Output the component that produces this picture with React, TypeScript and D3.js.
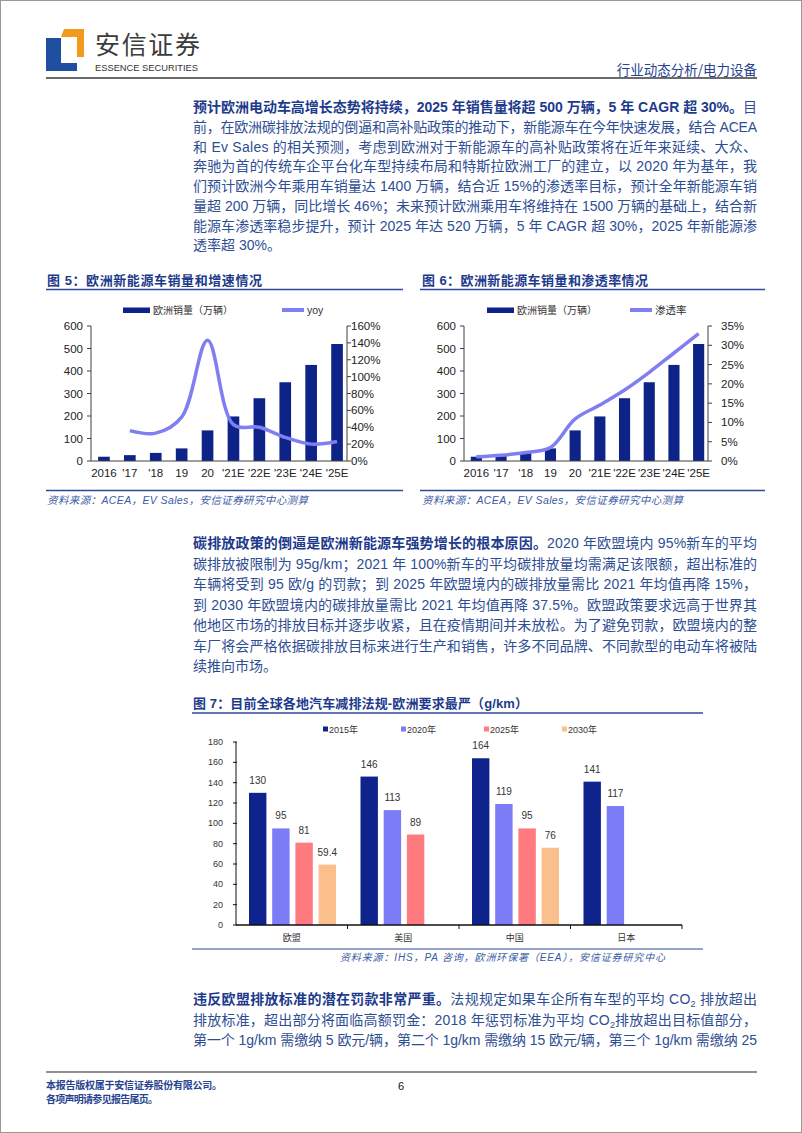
import React from 'react';
import * as d3 from 'd3';

// ---------- DATA ----------
const years = ['2016', "'17", "'18", '19', '20', "'21E", "'22E", "'23E", "'24E", "'25E"];
const euSales = [19, 26, 36, 56, 136, 198, 279, 350, 427, 520];
const euYoy: (number | null)[] = [null, 36, 33, 52, 143, 43, 40, 28, 20, 23];
const euPenetration = [1.1, 1.5, 2.2, 3.5, 10.9, 14.5, 18.4, 23, 28, 33];
const salesTicks = [0, 100, 200, 300, 400, 500, 600];
const yoyTicks = [0, 20, 40, 60, 80, 100, 120, 140, 160];
const penTicks = [0, 5, 10, 15, 20, 25, 30, 35];

const regions = ['欧盟', '美国', '中国', '日本'];
const stdYears = ['2015年', '2020年', '2025年', '2030年'];
const std2015 = [130, 146, 164, 141];
const std2020 = [95, 113, 119, 117];
const std2025: (number | null)[] = [81, 89, 95, null];
const std2030: (number | null)[] = [59.4, null, 76, null];
const stdTicks = [0, 20, 40, 60, 80, 100, 120, 140, 160, 180];

const para1 = [
  '前，在欧洲碳排放法规的倒逼和高补贴政策的推动下，新能源车在今年快速发展，结合 ACEA',
  '和 Ev Sales 的相关预测，考虑到欧洲对于新能源车的高补贴政策将在近年来延续、大众、',
  '奔驰为首的传统车企平台化车型持续布局和特斯拉欧洲工厂的建立，以 2020 年为基年，我',
  '们预计欧洲今年乘用车销量达 1400 万辆，结合近 15%的渗透率目标，预计全年新能源车销',
  '量超 200 万辆，同比增长 46%；未来预计欧洲乘用车将维持在 1500 万辆的基础上，结合新',
  '能源车渗透率稳步提升，预计 2025 年达 520 万辆，5 年 CAGR 超 30%，2025 年新能源渗',
];
const para2 = [
  '碳排放被限制为 95g/km；2021 年 100%新车的平均碳排放量均需满足该限额，超出标准的',
  '车辆将受到 95 欧/g 的罚款；到 2025 年欧盟境内的碳排放量需比 2021 年均值再降 15%，',
  '到 2030 年欧盟境内的碳排放量需比 2021 年均值再降 37.5%。欧盟政策要求远高于世界其',
  '他地区市场的排放目标并逐步收紧，且在疫情期间并未放松。为了避免罚款，欧盟境内的整',
  '车厂将会严格依据碳排放目标来进行生产和销售，许多不同品牌、不同款型的电动车将被陆',
];

// ---------- STYLE ----------
const FONT = "'Liberation Sans', Arial, 'Noto Sans CJK SC', sans-serif";
const NAVY = '#0E2388';
const LINE = '#7F7FF2';
const BODY = '#2E4E93';
const BOLD = '#1D3A8C';
const AXIS = '#404040';

type DualProps = {
  left: number; right: number; bandEnd: number; rightLabelX: number;
  line: (number | null)[]; lineMax: number; lineTicks: number[];
  lineLegend: string; lineLegendX: number; barLegendX: number;
  title: string; titleX: number; titleLen: number; ruleX1: number; ruleX2: number;
};

function DualChart(p: DualProps) {
  const top = 326, bottom = 461;
  const x = d3.scaleBand<string>().domain(years).range([p.left, p.bandEnd]).paddingInner(0.55).paddingOuter(0.275);
  const yL = d3.scaleLinear().domain([0, 600]).range([bottom, top]);
  const yR = d3.scaleLinear().domain([0, p.lineMax]).range([bottom, top]);
  const pts = years.map((c, i) => ({ c, v: p.line[i] })).filter(d => d.v !== null) as { c: string; v: number }[];
  const path = d3.line<{ c: string; v: number }>()
    .x(d => (x(d.c) as number) + x.bandwidth() / 2)
    .y(d => yR(d.v))
    .curve(d3.curveCatmullRom.alpha(0.5))(pts) || '';
  return (
    <g fontFamily={FONT}>
      <text x={p.titleX} y={285} fontSize={13} fontWeight="bold" fill={BOLD} textLength={p.titleLen} lengthAdjust="spacing">{p.title}</text>
      <line x1={p.ruleX1} x2={p.ruleX2} y1={289.5} y2={289.5} stroke="#2D4A9A" strokeWidth={1.5} />
      {/* legend */}
      <rect x={p.barLegendX} y={307.5} width={27} height={5.5} fill={NAVY} />
      <text x={p.barLegendX + 30} y={314} fontSize={10} fill="#333">欧洲销量（万辆）</text>
      <line x1={p.lineLegendX} x2={p.lineLegendX + 22} y1={310} y2={310} stroke={LINE} strokeWidth={4} />
      <text x={p.lineLegendX + 25} y={314} fontSize={10.5} fill="#333">{p.lineLegend}</text>
      {/* bars */}
      {years.map((c, i) => (
        <rect key={c} x={x(c)} y={yL(euSales[i])} width={x.bandwidth()} height={bottom - yL(euSales[i])} fill={NAVY} />
      ))}
      <path d={path} fill="none" stroke={LINE} strokeWidth={3.5} />
      {/* axes */}
      <line x1={p.left} x2={p.left} y1={top} y2={bottom} stroke={AXIS} />
      <line x1={p.right} x2={p.right} y1={top} y2={bottom} stroke={AXIS} />
      <line x1={p.left} x2={p.right} y1={bottom} y2={bottom} stroke={AXIS} />
      {salesTicks.map(t => (
        <g key={t}>
          <line x1={p.left - 4} x2={p.left} y1={yL(t)} y2={yL(t)} stroke={AXIS} />
          <text x={p.left - 8} y={yL(t)} dy="0.35em" fontSize={11.5} textAnchor="end" fill="#222">{t}</text>
        </g>
      ))}
      {p.lineTicks.map(t => (
        <g key={t}>
          <line x1={p.right} x2={p.right + 4} y1={yR(t)} y2={yR(t)} stroke={AXIS} />
          <text x={p.rightLabelX} y={yR(t)} dy="0.35em" fontSize={11.5} fill="#222">{t}%</text>
        </g>
      ))}
      {years.map(c => (
        <text key={c} x={(x(c) as number) + x.bandwidth() / 2} y={477} fontSize={11.5} textAnchor="middle" fill="#222">{c}</text>
      ))}
      <line x1={p.ruleX1} x2={p.ruleX2} y1={490.5} y2={490.5} stroke="#2D4A9A" strokeWidth={1.5} />
      <text x={p.titleX} y={504} fontSize={10.5} fontStyle="italic" fill="#3A5BA5" textLength={261} lengthAdjust="spacing">资料来源：ACEA，EV Sales，安信证券研究中心测算</text>
    </g>
  );
}

function StdChart() {
  const left = 236, right = 682, top = 742, bottom = 925;
  const x0 = d3.scaleBand<string>().domain(regions).range([left, right]);
  const x1 = d3.scaleBand<string>().domain(stdYears).range([13, 100]).paddingInner(0.25);
  const y = d3.scaleLinear().domain([0, 180]).range([bottom, top]);
  const colors = ['#0F238C', '#7C7CF6', '#FF7B7F', '#FBBF8C'];
  const series = [std2015, std2020, std2025, std2030];
  const legendX = [323, 401, 484, 562];
  return (
    <g fontFamily={FONT}>
      <text x={193} y={708} fontSize={13} fontWeight="bold" fill={BOLD} textLength={335} lengthAdjust="spacing">图 7：目前全球各地汽车减排法规-欧洲要求最严（g/km）</text>
      <line x1={192} x2={703} y1={713} y2={713} stroke="#2D4A9A" strokeWidth={1.5} />
      {stdYears.map((s, i) => (
        <g key={s}>
          <rect x={legendX[i]} y={726.5} width={5} height={5} fill={colors[i]} />
          <text x={legendX[i] + 6} y={732.5} fontSize={9} fill="#333">{s}</text>
        </g>
      ))}
      {regions.map((r, ri) => (
        <g key={r}>
          {series.map((s, si) => {
            const v = s[ri];
            if (v === null) return null;
            const bx = (x0(r) as number) + (x1(stdYears[si]) as number);
            return (
              <g key={si}>
                <rect x={bx} y={y(v)} width={x1.bandwidth()} height={bottom - y(v)} fill={colors[si]} />
                <text x={bx + x1.bandwidth() / 2} y={y(v) - 9} fontSize={10} textAnchor="middle" fill="#333">{v}</text>
              </g>
            );
          })}
          <text x={(x0(r) as number) + x0.bandwidth() / 2} y={941} fontSize={9} textAnchor="middle" fill="#333">{r}</text>
        </g>
      ))}
      <line x1={left} x2={left} y1={top} y2={bottom} stroke="#111" />
      <line x1={left} x2={right} y1={bottom} y2={bottom} stroke="#111" strokeWidth={1.3} />
      {stdTicks.map(t => (
        <g key={t}>
          <line x1={left - 3} x2={left + 1} y1={y(t)} y2={y(t)} stroke="#111" />
          <text x={223} y={y(t)} dy="0.35em" fontSize={9} textAnchor="end" fill="#333">{t}</text>
        </g>
      ))}
      {regions.map(r => (
        <line key={r} x1={(x0(r) as number) + x0.bandwidth()} x2={(x0(r) as number) + x0.bandwidth()} y1={bottom} y2={bottom + 4} stroke="#111" />
      ))}
      <line x1={192} x2={703} y1={949} y2={949} stroke="#2D4A9A" strokeWidth={1.2} />
      <text x={665} y={961} fontSize={10} fontStyle="italic" fill="#3A5BA5" textAnchor="end" textLength={325} lengthAdjust="spacing">资料来源：IHS，PA 咨询，欧洲环保署（EEA），安信证券研究中心</text>
    </g>
  );
}

function Para({ x, y0, step, lines }: { x: number; y0: number; step: number; lines: React.ReactNode[] }) {
  return (
    <g fontFamily={FONT} fontSize={14} fill={BODY}>
      {lines.map((l, i) => (
        <text key={i} x={x} y={y0 + i * step} textLength={564} lengthAdjust="spacing">{l}</text>
      ))}
    </g>
  );
}

export default function App() {
  const step1 = 19.75;
  return (
    <svg width={802} height={1133} style={{ position: 'absolute', left: 0, top: 0, background: '#fff' }}>
      <rect x={0.5} y={0.5} width={801} height={1132} fill="#fff" stroke="#999" />
      {/* header */}
      <path d="M46,38 H61 V63 H77 V71 H46 Z" fill="#1F4FA0" />
      <path d="M64,29 H84 V57 H77 V37 H61 Z" fill="#F39A1D" />
      <text x={95} y={54} fontFamily="'Noto Sans CJK SC', sans-serif" fontSize={25} fill="#3B3B3B" textLength={105} lengthAdjust="spacing">安信证券</text>
      <text x={95} y={70.5} fontFamily="'Liberation Sans Narrow', 'Liberation Sans', sans-serif" fontSize={9.5} fill="#333" textLength={103} lengthAdjust="spacingAndGlyphs">ESSENCE SECURITIES</text>
      <text x={757} y={75} fontFamily="'Noto Sans CJK SC', sans-serif" fontSize={13.5} fill="#27438F" textAnchor="end">行业动态分析/电力设备</text>
      <line x1={46} x2={757} y1={78} y2={78} stroke="#3A3A3A" strokeWidth={1.6} />

      {/* paragraph 1 */}
      <g fontFamily={FONT} fontSize={14} fill={BODY}>
        <text x={193} y={112} textLength={564} lengthAdjust="spacing">
          <tspan fontWeight="bold" fill={BOLD}>预计欧洲电动车高增长态势将持续，2025 年销售量将超 500 万辆，5 年 CAGR 超 30%。</tspan>目
        </text>
      </g>
      <Para x={193} y0={112 + step1} step={step1} lines={para1} />
      <text x={193} y={112 + 7 * step1} fontFamily={FONT} fontSize={14} fill={BODY}>透率超 30%。</text>

      <DualChart left={91} right={347} bandEnd={350} rightLabelX={351} line={euYoy} lineMax={160} lineTicks={yoyTicks}
        lineLegend="yoy" lineLegendX={282} barLegendX={123}
        title="图 5：欧洲新能源车销量和增速情况" titleX={47} titleLen={215} ruleX1={46} ruleX2={403} />
      <DualChart left={464} right={708} bandEnd={711} rightLabelX={721} line={euPenetration} lineMax={35} lineTicks={penTicks}
        lineLegend="渗透率" lineLegendX={630} barLegendX={487}
        title="图 6：欧洲新能源车销量和渗透率情况" titleX={422} titleLen={226} ruleX1={420} ruleX2={765} />

      {/* paragraph 2 */}
      <g fontFamily={FONT} fontSize={14} fill={BODY}>
        <text x={193} y={548} textLength={564} lengthAdjust="spacing">
          <tspan fontWeight="bold" fill={BOLD}>碳排放政策的倒逼是欧洲新能源车强势增长的根本原因。</tspan>2020 年欧盟境内 95%新车的平均
        </text>
      </g>
      <Para x={193} y0={548 + 20.5} step={20.5} lines={para2} />
      <text x={193} y={548 + 6 * 20.5} fontFamily={FONT} fontSize={14} fill={BODY}>续推向市场。</text>

      <StdChart />

      {/* paragraph 3 */}
      <g fontFamily={FONT} fontSize={14} fill={BODY}>
        <text x={193} y={1004} textLength={564} lengthAdjust="spacing">
          <tspan fontWeight="bold" fill={BOLD}>违反欧盟排放标准的潜在罚款非常严重。</tspan>法规规定如果车企所有车型的平均 CO<tspan fontSize={9} dy={3}>2</tspan><tspan dy={-3}> 排放超出</tspan>
        </text>
        <text x={193} y={1024.5} textLength={564} lengthAdjust="spacing">
          排放标准，超出部分将面临高额罚金：2018 年惩罚标准为平均 CO<tspan fontSize={9} dy={3}>2</tspan><tspan dy={-3}>排放超出目标值部分，</tspan>
        </text>
        <text x={193} y={1045} textLength={564} lengthAdjust="spacing">第一个 1g/km 需缴纳 5 欧元/辆，第二个 1g/km 需缴纳 15 欧元/辆，第三个 1g/km 需缴纳 25</text>
      </g>

      {/* footer */}
      <line x1={46} x2={757} y1={1072} y2={1072} stroke="#222" strokeWidth={1.2} />
      <text x={46} y={1089} fontFamily={FONT} fontSize={10} fontWeight="bold" fill="#27438F" textLength={176} lengthAdjust="spacing">本报告版权属于安信证券股份有限公司。</text>
      <text x={46} y={1103} fontFamily={FONT} fontSize={10} fontWeight="bold" fill="#27438F" textLength={112} lengthAdjust="spacing">各项声明请参见报告尾页。</text>
      <text x={401} y={1090} fontFamily={FONT} fontSize={11} fill="#111" textAnchor="middle">6</text>
    </svg>
  );
}
